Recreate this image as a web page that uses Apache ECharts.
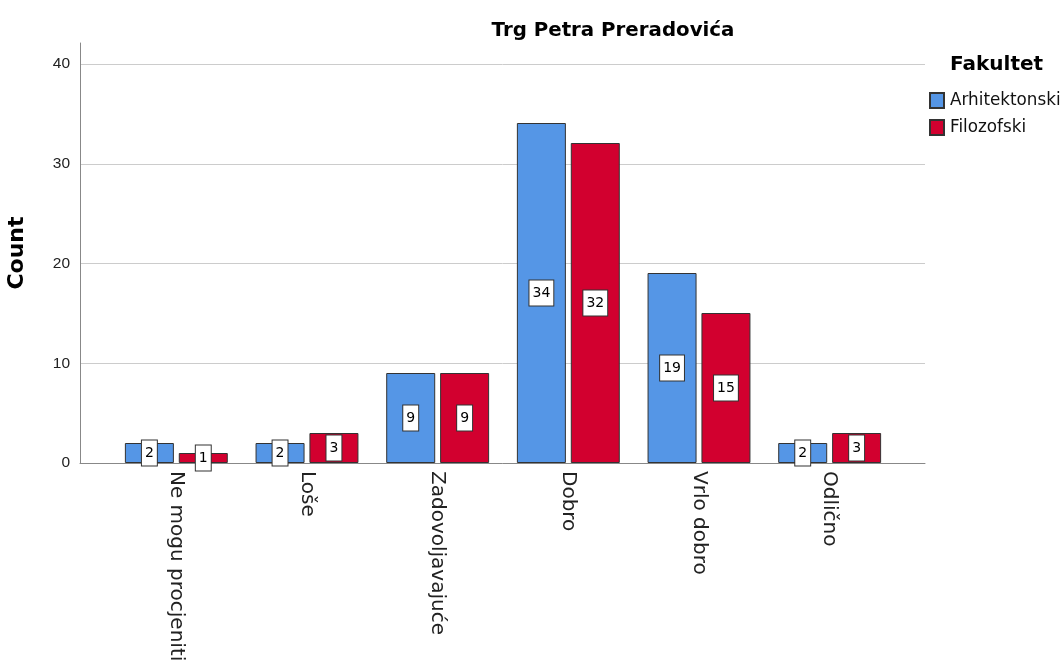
<!DOCTYPE html>
<html><head><meta charset="utf-8">
<script src="https://cdn.jsdelivr.net/npm/echarts@6/dist/echarts.min.js"></script>
<style>html,body{margin:0;padding:0;background:#fff}#c{width:1064px;height:664px}</style>
</head><body><div id="c"></div>
<script>
const categories = ['Ne mogu procjeniti', 'Loše', 'Zadovoljavajuće', 'Dobro', 'Vrlo dobro', 'Odlično'];
const arhitektonski = [2, 2, 9, 34, 19, 2];
const filozofski = [1, 3, 9, 32, 15, 3];
const seriesNames = ['Arhitektonski', 'Filozofski'];
const yTickMax = 40;
const yTickStep = 10;
const yAxisTop = 42;

const FONT = '"DejaVu Sans", Verdana, sans-serif';
const FONT2 = '"Liberation Sans", Arial, sans-serif';
const chart = echarts.init(document.getElementById('c'));
const labelStyle = {
  show: true, position: 'inside', color: '#000', fontSize: 14, fontFamily: FONT,
  backgroundColor: '#fff', borderColor: '#333', borderWidth: 1, padding: [6, 3, 5, 3],
  formatter: p => String(p.value)
};
const gridBase = { outerBoundsMode: 'none', containLabel: false };
chart.setOption({
  animation: false,
  title: [
    { text: 'Trg Petra Preradovića', left: 608, top: 16, textAlign: 'center',
      textStyle: { fontFamily: FONT, fontSize: 19.8, fontWeight: 'bold', color: '#000' } },
    { text: 'Fakultet', left: 950, top: 55, padding: 0,
      textStyle: { fontFamily: FONT, fontSize: 20, fontWeight: 'bold', color: '#000' } }
  ],
  legend: {
    data: seriesNames, orient: 'vertical', left: 929, top: 92, padding: 0, icon: 'rect',
    itemWidth: 14, itemHeight: 15, itemGap: 10,
    textStyle: { fontFamily: FONT, fontSize: 16.8, color: '#111', padding: [0, 0, 0, 1] }
  },
  grid: [
    Object.assign({ left: 80, right: 139, top: 43, bottom: 201 }, gridBase),
    Object.assign({ left: 111, right: 169, top: 43, bottom: 201 }, gridBase),
    Object.assign({ left: 80, right: 139, top: 64, bottom: 201 }, gridBase)
  ],
  xAxis: [
    { type: 'value', gridIndex: 0, min: 0, max: 1, axisLabel: { show: false }, axisTick: { show: false },
      splitLine: { show: false }, axisLine: { show: true, lineStyle: { color: '#888', width: 1 } } },
    { type: 'category', gridIndex: 1, data: categories, axisLine: { show: false }, axisTick: { show: false },
      axisLabel: { rotate: -90, margin: 8, fontSize: 20, fontFamily: FONT, color: '#222' } },
    { type: 'value', gridIndex: 2, min: 0, max: 1, show: false }
  ],
  yAxis: [
    { type: 'value', gridIndex: 0, min: 0, max: yAxisTop,
      name: 'Count', nameLocation: 'middle', nameGap: 52, nameRotate: 90,
      nameTextStyle: { fontFamily: FONT, fontSize: 22, fontWeight: 'bold', color: '#000' },
      axisLine: { show: true, lineStyle: { color: '#888', width: 1 } }, axisTick: { show: false },
      axisLabel: { show: false }, splitLine: { show: false } },
    { type: 'value', gridIndex: 1, min: 0, max: yAxisTop, show: false, splitLine: { show: false } },
    { type: 'value', gridIndex: 2, min: 0, max: yTickMax, interval: yTickStep,
      axisLine: { show: false }, axisTick: { show: false },
      axisLabel: { margin: 10, fontSize: 15.5, fontFamily: FONT2, color: '#222' },
      splitLine: { show: true, lineStyle: { color: '#ccc', width: 1 } } }
  ],
  series: [
    { name: seriesNames[0], type: 'bar', xAxisIndex: 1, yAxisIndex: 1, data: arhitektonski,
      barWidth: 49, barGap: '10%',
      itemStyle: { color: '#5596E6', borderColor: '#333', borderWidth: 1 }, label: labelStyle },
    { name: seriesNames[1], type: 'bar', xAxisIndex: 1, yAxisIndex: 1, data: filozofski,
      barWidth: 49, barGap: '10%',
      itemStyle: { color: '#D2002F', borderColor: '#333', borderWidth: 1 }, label: labelStyle }
  ]
});
</script></body></html>
